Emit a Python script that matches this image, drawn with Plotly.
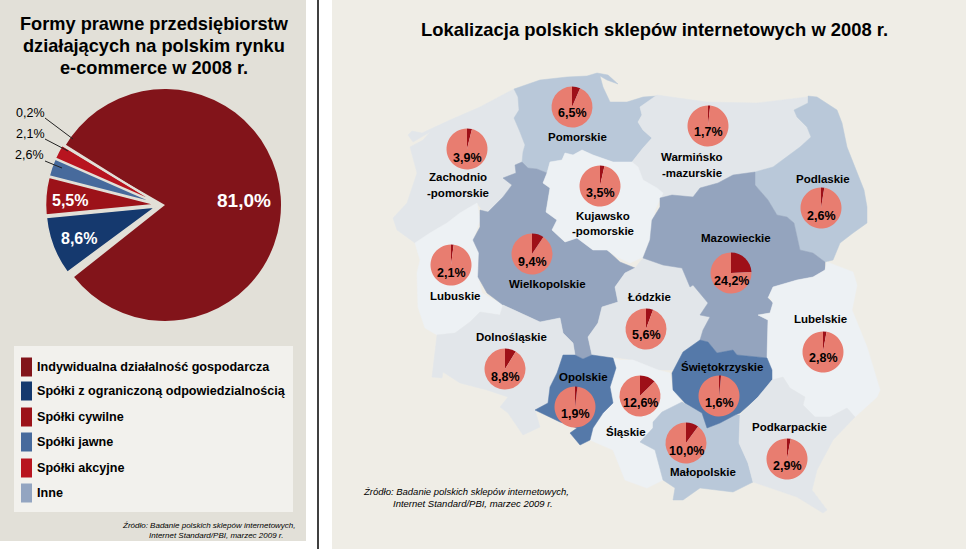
import plotly.graph_objects as go

WIDTH = 966
HEIGHT = 549
FONT = 'Liberation Sans'

LIGHT = '#edf1f4'
GREY = '#e2e6ea'
PALE = '#b9c8d9'
MID = '#94a4be'
DARK = '#5579a9'

# region outlines (pixels of the 966x549 image)
regions = {
    'Zachodniopomorskie': (GREY, [(514,89),(518,97),(519,110),(514,118),(520,132),(525,145),(523,152),(522,162),(515,165),(516,173),(503,178),(512,185),(503,197),(497,203),(488,212),(482,210),(477,203),(460,213),(447,223),(430,233),(415,243),(397,230),(393,218),(407,203),(417,173),(410,147),(423,140),(430,132),(413,142),(408,135),(412,131),(422,133),(450,120),(480,107)]),
    'Pomorskie': (PALE, [(514,89),(540,80),(567,77),(587,76),(597,73),(608,75),(618,84),(607,80),(600,76),(603,87),(610,102),(627,102),(643,97),(657,96),(640,107),(642,115),(638,122),(643,130),(652,138),(643,148),(632,162),(613,162),(593,155),(582,150),(573,155),(565,153),(562,160),(550,162),(547,173),(537,169),(528,168),(522,162),(523,152),(525,145),(520,132),(514,118),(519,110),(518,97)]),
    'Warminsko': (GREY, [(657,95),(707,102),(757,103),(807,97),(808,103),(794,110),(797,117),(807,127),(811,137),(800,147),(787,157),(773,167),(755,172),(733,175),(718,183),(700,188),(693,197),(672,195),(660,198),(664,192),(663,193),(643,180),(638,167),(632,162),(643,148),(652,138),(643,130),(638,122),(642,115),(640,107)]),
    'Podlaskie': (PALE, [(808,96),(817,97),(837,110),(842,123),(847,147),(857,173),(864,190),(867,207),(867,223),(853,233),(840,243),(833,260),(825,262),(813,253),(800,250),(794,223),(787,217),(777,215),(768,200),(755,185),(755,172),(773,167),(787,157),(800,147),(811,137),(807,127),(797,117),(794,110),(808,103)]),
    'Lubuskie': (LIGHT, [(477,203),(480,220),(473,240),(479,253),(478,277),(482,293),(503,305),(500,315),(480,312),(470,322),(455,333),(437,335),(425,328),(418,307),(417,273),(420,260),(415,243),(430,233),(447,223),(460,213)]),
    'Wielkopolskie': (MID, [(522,162),(528,168),(537,169),(547,173),(543,183),(550,188),(548,200),(546,212),(557,220),(552,230),(565,242),(577,238),(593,250),(607,250),(620,262),(635,268),(625,273),(615,287),(618,302),(602,307),(598,323),(588,337),(592,355),(583,359),(575,355),(573,343),(563,333),(560,318),(540,322),(520,313),(503,305),(487,293),(478,277),(479,253),(473,240),(480,227),(480,210),(488,212),(497,203),(503,197),(512,185),(503,178),(516,173),(515,165)]),
    'Kujawsko': (LIGHT, [(550,162),(562,160),(565,153),(573,155),(582,150),(593,155),(613,162),(632,162),(638,167),(643,180),(657,188),(663,193),(655,210),(652,233),(643,257),(630,263),(617,257),(607,250),(593,250),(577,238),(565,242),(552,230),(557,220),(546,212),(548,200),(550,188),(543,183),(547,173)]),
    'Lodzkie': (GREY, [(635,268),(643,258),(663,265),(682,268),(690,287),(693,285),(708,303),(700,315),(710,317),(703,330),(700,340),(683,352),(673,370),(658,370),(633,360),(620,358),(592,355),(588,337),(598,323),(602,307),(618,302),(615,287),(625,273)]),
    'Mazowieckie': (MID, [(755,172),(755,185),(768,200),(777,215),(787,217),(794,223),(800,250),(813,253),(825,262),(825,270),(813,277),(797,280),(773,287),(768,298),(773,303),(770,313),(758,315),(768,320),(767,358),(737,355),(733,350),(717,353),(708,342),(700,340),(703,330),(710,317),(700,315),(708,303),(693,285),(690,287),(682,268),(663,265),(643,258),(650,240),(652,220),(660,207),(660,198),(672,195),(693,197),(700,188),(718,183),(733,175)]),
    'Lubelskie': (LIGHT, [(770,297),(768,298),(773,287),(797,280),(813,277),(825,270),(827,262),(853,272),(857,285),(852,310),(867,347),(875,375),(880,390),(877,397),(855,417),(847,408),(830,417),(815,417),(803,405),(805,397),(790,388),(783,377),(772,380),(772,370),(767,358),(768,320),(758,315),(770,313),(773,303)]),
    'Dolnoslaskie': (GREY, [(503,305),(520,313),(540,322),(560,318),(563,333),(573,343),(575,355),(563,355),(557,373),(550,387),(548,403),(535,410),(540,427),(523,435),(508,413),(500,407),(508,397),(487,390),(460,383),(443,372),(442,378),(432,377),(437,335),(455,333),(470,322),(480,312),(500,315)]),
    'Slaskie': (LIGHT, [(613,358),(620,360),(633,360),(658,370),(670,373),(672,387),(682,402),(662,412),(653,422),(653,428),(640,442),(655,450),(663,480),(647,488),(625,480),(613,450),(590,440),(593,428),(603,413),(613,403),(610,387),(616,368)]),
    'Opolskie': (DARK, [(563,355),(575,355),(583,359),(592,355),(613,358),(616,368),(610,387),(613,403),(603,413),(593,428),(590,440),(580,445),(570,433),(577,428),(560,422),(535,410),(548,403),(550,387),(557,373)]),
    'Malopolskie': (PALE, [(682,402),(702,413),(707,428),(720,423),(735,415),(740,415),(739,443),(748,463),(753,482),(733,492),(700,488),(683,500),(673,500),(675,488),(663,480),(655,450),(640,442),(653,428),(653,422),(662,412)]),
    'Swietokrzyskie': (DARK, [(700,340),(708,342),(717,353),(733,350),(737,355),(767,358),(772,370),(772,380),(758,397),(740,413),(735,415),(720,423),(707,428),(702,413),(685,403),(673,390),(672,373),(683,352)]),
    'Podkarpackie': (GREY, [(740,415),(758,397),(772,380),(783,377),(790,388),(805,397),(803,405),(815,417),(830,417),(847,408),(855,417),(833,440),(817,470),(812,490),(827,510),(823,513),(797,497),(777,490),(753,482),(748,463),(739,443)]),
}

# value, pie centre, value label y, name lines (x, y, text)
shops = [
    (6.5, 572, 107, 113, [(577, 137, 'Pomorskie')]),
    (3.9, 467, 149, 158, [(458, 177, 'Zachodnio'), (458, 193, '-pomorskie')]),
    (3.5, 600, 186, 193, [(603, 216, 'Kujawsko'), (603, 231, '-pomorskie')]),
    (2.1, 451, 265, 273, [(455, 296, 'Lubuskie')]),
    (9.4, 532, 254, 262, [(547, 284, 'Wielkopolskie')]),
    (1.7, 708, 126, 132, [(692, 157, 'Warmińsko'), (692, 173, '-mazurskie')]),
    (2.6, 821, 208, 216, [(823, 179, 'Podlaskie')]),
    (24.2, 731, 273, 281, [(736, 238, 'Mazowieckie')]),
    (8.8, 505, 369, 377, [(511, 337, 'Dolnośląskie')]),
    (1.9, 575, 407, 414, [(583, 377, 'Opolskie')]),
    (12.6, 640, 396, 403, [(626, 432, 'Śląskie')]),
    (5.6, 646, 329, 335, [(649, 297, 'Łódzkie')]),
    (1.6, 719, 396, 403, [(722, 367, 'Świętokrzyskie')]),
    (10.0, 686, 443, 451, [(703, 472, 'Małopolskie')]),
    (2.9, 787, 459, 466, [(789, 427, 'Podkarpackie')]),
    (2.8, 823, 352, 358, [(820, 319, 'Lubelskie')]),
]

forms = [
    ('Indywidualna działalność gospodarcza', 81.0, '#82141a', 367),
    ('Spółki z ograniczoną odpowiedzialnością', 8.6, '#15396e', 391),
    ('Spółki cywilne', 5.5, '#9c1219', 417),
    ('Spółki jawne', 2.6, '#476a9c', 442),
    ('Spółki akcyjne', 2.1, '#b8141f', 468),
    ('Inne', 0.2, '#93a5c1', 493),
]


def domain(cx, cy, r):
    return dict(x=[(cx - r) / WIDTH, (cx + r) / WIDTH],
                y=[1 - (cy + r) / HEIGHT, 1 - (cy - r) / HEIGHT])


def label(x, y, text, size=12, color='black', bold=True, anchor='center', italic=False):
    if bold:
        text = f'<b>{text}</b>'
    if italic:
        text = f'<i>{text}</i>'
    return dict(x=x, y=y, xref='x', yref='y', text=text, showarrow=False, xanchor=anchor, yanchor='middle',
                font=dict(family=FONT, size=size, color=color))


def rect(x0, y0, x1, y1, color):
    return dict(type='rect', x0=x0, y0=y0, x1=x1, y1=y1, xref='x', yref='y', layer='below',
                fillcolor=color, line_width=0)


fig = go.Figure()

for name, (color, points) in regions.items():
    fig.add_trace(go.Scatter(x=[p[0] for p in points] + [points[0][0]], y=[p[1] for p in points] + [points[0][1]],
                             mode='lines', fill='toself', fillcolor=color, line=dict(color=color, width=0.5),
                             name=name, hoverinfo='skip'))

values = [f[1] for f in forms]
colors = [f[2] for f in forms]
# big slice stays in place, the small ones are moved out to the left
fig.add_trace(go.Pie(values=[values[0], 100 - values[0]],
                     marker=dict(colors=[colors[0], 'rgba(0,0,0,0)'], line=dict(width=0)),
                     domain=domain(165, 205, 116), sort=False, direction='clockwise', rotation=300,
                     textinfo='none', hoverinfo='skip'))
fig.add_trace(go.Pie(values=values, pull=[0, .05, .05, .05, .05, .05],
                     marker=dict(colors=['rgba(0,0,0,0)'] + colors[1:],
                                 line=dict(color='#e2e0d8', width=[0, 1.5, 1.5, 1.5, 1.5, 1.5])),
                     domain=domain(161, 205, 115.5), sort=False, direction='clockwise', rotation=302,
                     textinfo='none', hoverinfo='skip'))

for value, cx, cy, ty, names in shops:
    fig.add_trace(go.Pie(values=[value, 100 - value],
                         marker=dict(colors=['#9e1018', '#e87d70'], line=dict(width=0)),
                         domain=domain(cx, cy, 20.5), sort=False, direction='clockwise',
                         textinfo='none', hoverinfo='skip'))

shapes = [
    rect(0, 0, 306, 541, '#e2e0d8'),
    rect(332, 0, 966, 549, '#efede6'),
    rect(14, 346, 293, 512, '#f2f1ed'),
]
shapes.append(dict(type='line', x0=318, x1=318, y0=0, y1=549, xref='x', yref='y', line=dict(color='black', width=1.5)))
for x0, y0, x1, y1 in [(45, 118, 73, 139), (45, 139, 68, 151), (45, 161, 62, 168)]:
    shapes.append(dict(type='line', x0=x0, x1=x1, y0=y0, y1=y1, xref='x', yref='y', line=dict(color='#222222', width=1)))
for _name, _value, color, y in forms:
    shapes.append(rect(21, y - 9.5, 32, y + 9.5, color))

annotations = [
    label(154, 24, 'Formy prawne przedsiębiorstw', 18.2),
    label(154, 46, 'działających na polskim rynku', 18.2),
    label(154, 68, 'e-commerce w 2008 r.', 18.2),
    label(654, 29, 'Lokalizacja polskich sklepów internetowych w 2008 r.', 18.4),
    label(244, 200, '81,0%', 19, 'white'),
    label(70, 200, '5,5%', 16, 'white'),
    label(79, 238, '8,6%', 16, 'white'),
    label(30, 113, '0,2%', 12.5, bold=False),
    label(30, 134, '2,1%', 12.5, bold=False),
    label(29, 155, '2,6%', 12.5, bold=False),
    label(120, 525, 'Źródło: Badanie polskich sklepów internetowych,', 8, bold=False, anchor='left', italic=True),
    label(147, 535, 'Internet Standard/PBI, marzec 2009 r.', 8, bold=False, anchor='left', italic=True),
    label(361, 491, 'Źródło: Badanie polskich sklepów internetowych,', 9.5, bold=False, anchor='left', italic=True),
    label(391, 503, 'Internet Standard/PBI, marzec 2009 r.', 9.5, bold=False, anchor='left', italic=True),
]
for name, _value, _color, y in forms:
    annotations.append(label(35, y, name, 12.6, anchor='left'))
for value, cx, cy, ty, names in shops:
    annotations.append(label(cx, ty, f'{value:.1f}%'.replace('.', ','), 12.5))
    for x, y, text in names:
        annotations.append(label(x, y, text, 11.5))

fig.update_layout(
    width=WIDTH, height=HEIGHT, margin=dict(l=0, r=0, t=0, b=0), showlegend=False,
    paper_bgcolor='white', plot_bgcolor='white', shapes=shapes, annotations=annotations,
    xaxis=dict(range=[0, WIDTH], visible=False, fixedrange=True),
    yaxis=dict(range=[HEIGHT, 0], visible=False, fixedrange=True),
)
# page has a default body margin, the picture should start in the corner
fig.write_html("out.html", config=dict(displayModeBar=False), post_script="document.body.style.margin='0';")
